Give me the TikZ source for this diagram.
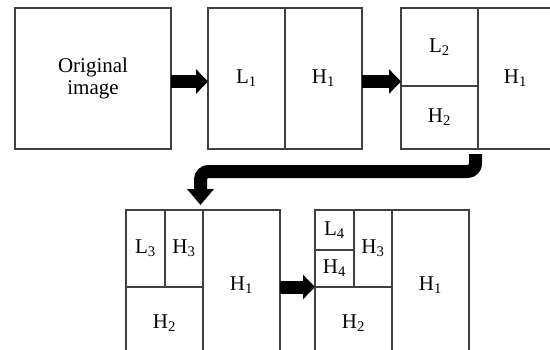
\documentclass[tikz,border=0pt]{standalone}
\usepackage{fontspec}
\setmainfont{Liberation Serif}
\usetikzlibrary{arrows.meta}
\tikzset{
  cell/.style={draw=black!75, line width=1.3pt, inner sep=0pt, outer sep=0pt,
    font=\fontsize{21}{22}\selectfont, align=center},
  blockarrow/.style={line width=13pt, black,
    -{Triangle[width=24pt,length=12pt]}},
  bentarrow/.style={line width=13pt, black, rounded corners=8pt,
    -{Triangle[width=26pt,length=16pt]}}
}
\newcommand\mycell[6]{\node[cell, minimum width={#4pt-#2pt}, minimum height={#5pt-#3pt}]
  (#1) at ({(#2+#4)/2},{(#3+#5)/2}) {#6};}
\newcommand\subn[1]{\textsubscript{#1}}
\begin{document}
\begin{tikzpicture}[x=1pt,y=-1pt]
\useasboundingbox (0,0) rectangle (550,349);
\begin{scope}
\clip (0,0) rectangle (550,349);
% top row
\mycell{orig}{15}{8}{171}{149}{Original\\image}
\mycell{l1}{208}{8}{285}{149}{L\subn{1}}
\mycell{h1a}{285}{8}{362}{149}{H\subn{1}}
\mycell{l2}{401}{8}{478}{86}{L\subn{2}}
\mycell{h2b}{401}{86}{478}{149}{H\subn{2}}
\mycell{h1b}{478}{8}{553}{149}{H\subn{1}}
% bottom row left
\mycell{l3}{126}{210}{165}{287}{L\subn{3}}
\mycell{h3c}{165}{210}{203}{287}{H\subn{3}}
\mycell{h2c}{126}{287}{203}{360}{H\subn{2}}
\mycell{h1c}{203}{210}{280}{360}{H\subn{1}}
% bottom row right
\mycell{l4}{315}{210}{354}{250}{L\subn{4}}
\mycell{h4}{315}{250}{354}{287}{H\subn{4}}
\mycell{h3e}{354}{210}{392}{287}{H\subn{3}}
\mycell{h2e}{315}{287}{392}{360}{H\subn{2}}
\mycell{h1e}{392}{210}{469}{360}{H\subn{1}}
% arrows
\draw[blockarrow] ([yshift=-3pt]orig.east) -- ([yshift=-3pt]orig.east -| l1.west);
\draw[blockarrow] ([yshift=-3pt]h1a.east) -- ([yshift=-3pt]h1a.east -| l2.west);
\draw[blockarrow] (h1c.east |- h2c.north) -- (h2e.north west);
\coordinate (b1) at ([xshift=-2.5pt,yshift=-5pt]h2b.south east);
\coordinate (b2) at ([xshift=-2.5pt,yshift=5pt]h3c.north east);
\draw[bentarrow] (b1) -- ++(0,17.5) -| (b2);
\end{scope}
\end{tikzpicture}
\end{document}
